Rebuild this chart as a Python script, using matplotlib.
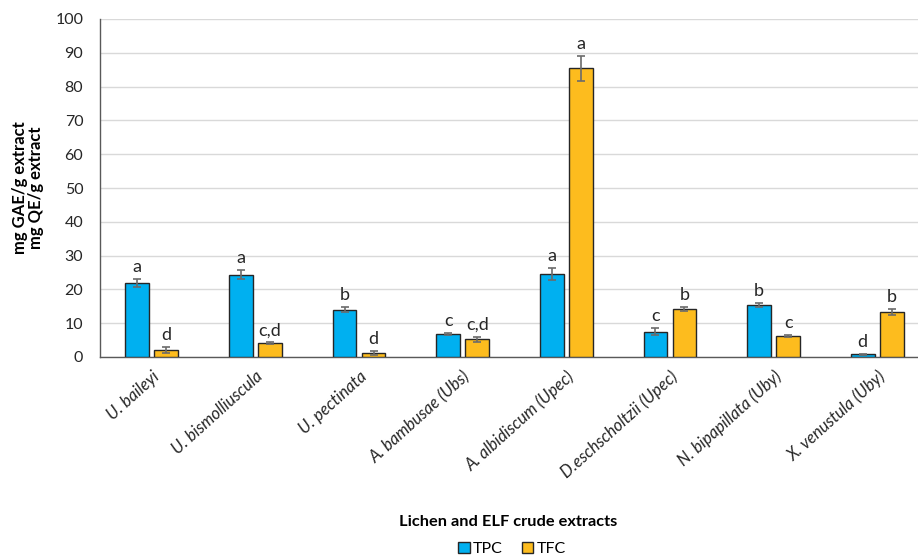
import matplotlib
matplotlib.use("Agg")
import matplotlib.pyplot as plt
import numpy as np

categories = ["U. baileyi", "U. bismolliuscula", "U. pectinata", "A. bambusae (Ubs)",
              "A. albidiscum (Upec)", "D.eschscholtzii (Upec)", "N. bipapillata (Uby)",
              "X. venustula (Uby)"]
tpc = [21.9, 24.3, 14.0, 6.8, 24.6, 7.5, 15.4, 0.8]
tpc_err = [1.2, 1.3, 0.8, 0.4, 1.7, 1.0, 0.7, 0.1]
tfc = [2.1, 4.0, 1.2, 5.2, 85.4, 14.2, 6.3, 13.4]
tfc_err = [0.8, 0.3, 0.5, 0.7, 3.6, 0.7, 0.3, 0.9]
tpc_letters = ["a", "a", "b", "c", "a", "c", "b", "d"]
tfc_letters = ["d", "c,d", "d", "c,d", "a", "b", "c", "b"]
yticks = list(range(0, 101, 10))

plt.rcParams['font.family'] = ['Lato', 'DejaVu Sans']

fig = plt.figure(figsize=(9.18, 5.58), dpi=100)
ax = fig.add_axes([100/918, 1-357/558, 829/918, (357-19)/558])

x = np.arange(len(categories))
w = 0.23
off = 0.14
c_tpc = '#00B0F0'
c_tfc = '#FDBC1E'
edge = '#262626'
ecol = '#6b6b6b'

ax.bar(x - off, tpc, w, color=c_tpc, edgecolor=edge, linewidth=1.0, zorder=3, label='TPC')
ax.bar(x + off, tfc, w, color=c_tfc, edgecolor=edge, linewidth=1.0, zorder=3, label='TFC')
ax.errorbar(x - off, tpc, yerr=tpc_err, fmt='none', ecolor=ecol, elinewidth=1.2, capsize=3, capthick=1.2, zorder=4)
ax.errorbar(x + off, tfc, yerr=tfc_err, fmt='none', ecolor=ecol, elinewidth=1.2, capsize=3, capthick=1.2, zorder=4)

for i in range(len(categories)):
    ax.text(x[i] - off, tpc[i] + tpc_err[i] + 1.2, tpc_letters[i], ha='center', va='bottom',
            fontsize=13, color='#262626', zorder=5)
    ax.text(x[i] + off, tfc[i] + tfc_err[i] + 1.2, tfc_letters[i], ha='center', va='bottom',
            fontsize=13, color='#262626', zorder=5)

ax.set_xlim(-0.5, len(categories) - 0.5)
ax.set_ylim(0, 100)
ax.set_yticks(yticks)
ax.set_yticklabels([str(t) for t in yticks], fontsize=11.5, color='#262626')
ax.tick_params(axis='y', length=0, pad=12)
ax.tick_params(axis='x', length=0, pad=8)
ax.set_xticks(x)
ax.set_xticklabels(categories, rotation=42, ha='right', rotation_mode='anchor',
                   fontsize=12, style='italic', color='#262626')
ax.grid(axis='y', color='#d9d9d9', linewidth=1.0, zorder=0)
ax.set_axisbelow(True)
for s in ['top', 'right']:
    ax.spines[s].set_visible(False)
ax.spines['left'].set_color('#595959')
ax.spines['bottom'].set_color('#595959')
ax.spines['left'].set_linewidth(1.0)
ax.spines['bottom'].set_linewidth(1.0)

fig.text(28/918, 1-188/558, "mg GAE/g extract\nmg QE/g extract", rotation=90,
         ha='center', va='center', fontsize=12, fontweight='bold', color='#000000',
         linespacing=1.05)
fig.text(508/918, 1-522/558, "Lichen and ELF crude extracts", ha='center', va='center',
         fontsize=11.8, fontweight='bold', color='#000000')

leg = fig.legend(loc='center', bbox_to_anchor=(512/918, 1-549/558), ncol=2, frameon=False,
                 fontsize=11.5, handlelength=0.7, handleheight=0.7, handletextpad=0.2,
                 columnspacing=1.2)

fig.savefig("out.png", dpi=100)
